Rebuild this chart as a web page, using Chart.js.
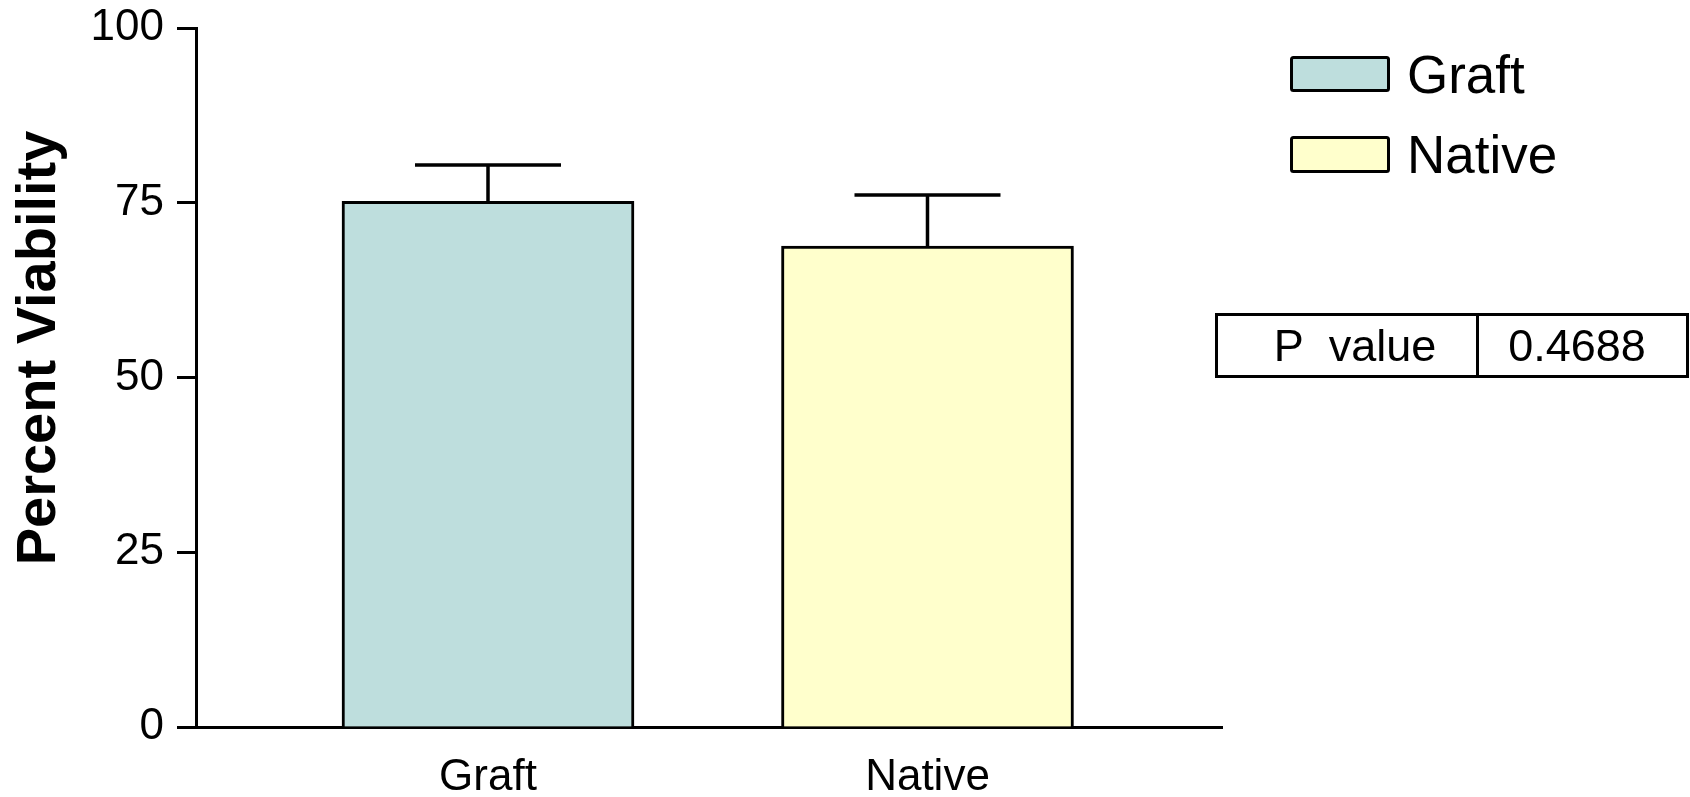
<!DOCTYPE html>
<html>
<head>
<meta charset="utf-8">
<title>Percent Viability</title>
<script src="https://cdn.jsdelivr.net/npm/chart.js@4.4.1/dist/chart.umd.min.js"></script>
<style>
  html, body { margin: 0; padding: 0; background: #ffffff; }
  #wrap { width: 1690px; height: 797px; position: relative; }
</style>
</head>
<body>
<div id="wrap"><canvas id="c" width="1690" height="797"></canvas></div>
<script>
// Group means and standard errors (percent viability)
const groups = ['Graft', 'Native'];
const meanViability = [75.2, 68.8];
const semViability = [5.2, 7.3];
const yTicks = [0, 25, 50, 75, 100];
const yTitle = 'Percent Viability';
const pLabel = 'P  value';
const pValue = '0.4688';

// Styling
const fills = ['#BEDEDD', '#FFFFCC'];
const FONT = "'Liberation Sans', Arial, Helvetica, sans-serif";
const INK = '#000000';

// Error bars: stem from bar top to mean + SEM, cap half as wide as the bar
const errorBars = {
  id: 'errorBars',
  afterDatasetsDraw(chart) {
    const ctx = chart.ctx;
    const y = chart.scales.y;
    chart.data.datasets.forEach((ds, i) => {
      const bar = chart.getDatasetMeta(i).data[0];
      if (!bar) return;
      const top = y.getPixelForValue(meanViability[i] + semViability[i]);
      const half = bar.width / 4;
      ctx.save();
      ctx.strokeStyle = INK;
      ctx.lineWidth = 3.5;
      ctx.lineCap = 'butt';
      ctx.beginPath();
      ctx.moveTo(bar.x, bar.y);
      ctx.lineTo(bar.x, top);
      ctx.moveTo(bar.x - half, top);
      ctx.lineTo(bar.x + half, top);
      ctx.stroke();
      ctx.restore();
    });
  }
};

// Axis title, legend and the P value box
const annotations = {
  id: 'annotations',
  afterDraw(chart) {
    const ctx = chart.ctx;
    ctx.save();

    // y axis title
    ctx.save();
    ctx.translate(40, 348);
    ctx.rotate(-Math.PI / 2);
    ctx.font = 'bold 56px ' + FONT;
    ctx.fillStyle = INK;
    ctx.textAlign = 'center';
    ctx.textBaseline = 'middle';
    ctx.fillText(yTitle, 0, 0);
    ctx.restore();

    // legend
    const rows = [{ top: 57.5, h: 33, base: 93 }, { top: 137.5, h: 34, base: 173 }];
    chart.data.datasets.forEach((ds, i) => {
      const r = rows[i];
      ctx.beginPath();
      ctx.roundRect(1291.5, r.top, 97, r.h, 2);
      ctx.fillStyle = ds.backgroundColor;
      ctx.fill();
      ctx.lineWidth = 3;
      ctx.strokeStyle = INK;
      ctx.stroke();
      ctx.font = '53px ' + FONT;
      ctx.fillStyle = INK;
      ctx.textAlign = 'left';
      ctx.textBaseline = 'alphabetic';
      ctx.fillText(ds.label, 1407, r.base);
    });

    // P value box
    ctx.lineWidth = 3;
    ctx.strokeStyle = INK;
    ctx.strokeRect(1216.5, 314.5, 471, 62);
    ctx.beginPath();
    ctx.moveTo(1477.5, 314.5);
    ctx.lineTo(1477.5, 376.5);
    ctx.stroke();
    ctx.font = '45px ' + FONT;
    ctx.fillStyle = INK;
    ctx.textAlign = 'center';
    ctx.textBaseline = 'alphabetic';
    ctx.fillText(pLabel, 1355, 361);
    ctx.fillText(pValue, 1577, 361);

    ctx.restore();
  }
};

const datasets = groups.map((g, i) => ({
  label: g,
  data: [{ x: i, y: meanViability[i] }],
  backgroundColor: fills[i],
  borderColor: INK,
  borderWidth: 3,
  borderSkipped: 'start',
  barThickness: 292,
  grouped: false
}));

new Chart(document.getElementById('c'), {
  type: 'bar',
  data: { datasets },
  options: {
    responsive: false,
    animation: false,
    devicePixelRatio: 1,
    layout: { padding: { left: 0, top: 28, right: 468, bottom: 0 } },
    plugins: {
      legend: { display: false },
      tooltip: { enabled: false }
    },
    scales: {
      x: {
        type: 'linear',
        offset: false,
        min: -0.6644,
        max: 1.6701,
        afterBuildTicks: s => { s.ticks = groups.map((g, i) => ({ value: i })); },
        afterFit: s => { s.height = 70; },
        ticks: {
          callback: v => groups[v],
          font: { family: FONT, size: 44 },
          color: INK,
          padding: 24,
          autoSkip: false,
          maxRotation: 0
        },
        grid: { display: true, offset: false, drawOnChartArea: false, drawTicks: false },
        border: { display: true, color: INK, width: 3 }
      },
      y: {
        min: 0,
        max: 100,
        afterBuildTicks: s => { s.ticks = yTicks.map(v => ({ value: v })); },
        afterFit: s => { s.width = 196; },
        ticks: {
          font: { family: FONT, size: 44, lineHeight: 0.6 },
          color: INK,
          padding: 13
        },
        grid: {
          display: true,
          drawOnChartArea: false,
          drawTicks: true,
          tickLength: 19,
          tickWidth: 3,
          tickColor: INK
        },
        border: { display: true, color: INK, width: 3 }
      }
    }
  },
  plugins: [errorBars, annotations]
});
</script>
</body>
</html>
